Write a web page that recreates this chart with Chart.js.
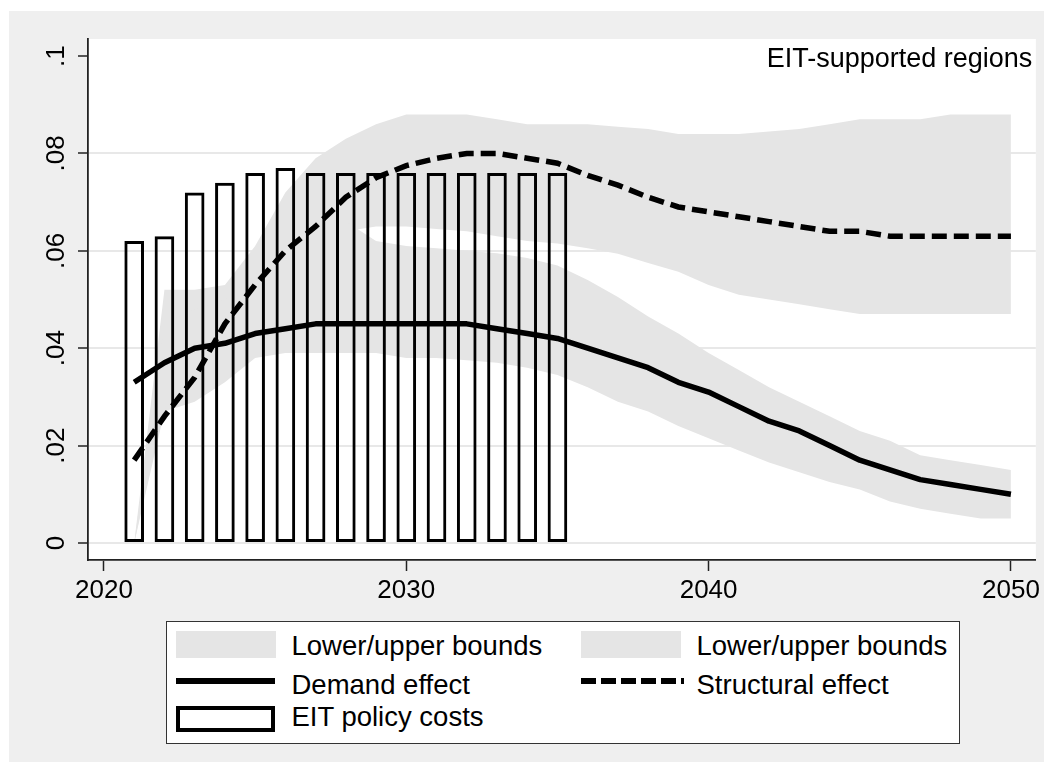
<!DOCTYPE html>
<html>
<head>
<meta charset="utf-8">
<title>EIT-supported regions</title>
<script src="https://cdn.jsdelivr.net/npm/chart.js@4.4.0/dist/chart.umd.min.js"></script>
<style>
  html, body { margin: 0; padding: 0; background: #fff; }
  body { width: 1053px; height: 773px; position: relative; overflow: hidden; font-family: "Liberation Sans", Arial, sans-serif; }
  #frame { position: absolute; left: 9px; top: 11px; width: 1035px; height: 751px; background: #efefef; }
  #chart { position: absolute; left: 0; top: 0; }
  #legend { position: absolute; left: 157px; top: 610px; width: 794px; height: 123px; box-sizing: border-box; border: 1.5px solid #333; background: #fff; }
  #legend .key { position: absolute; box-sizing: border-box; }
  #legend .band { width: 100px; height: 27px; background: #e5e5e5; }
  #legend .solid { width: 99px; height: 6px; background: #000; }
  #legend .dashed { width: 103px; height: 6px; background: repeating-linear-gradient(to right, #000 0 15px, transparent 15px 20px); }
  #legend .bar { width: 99px; height: 26px; border: 4px solid #000; background: #fff; }
  #legend .text { position: absolute; font-size: 27.5px; line-height: 30px; color: #000; white-space: nowrap; }
</style>
</head>
<body>
<div id="frame">
  <canvas id="chart" width="1035" height="751"></canvas>
  <div id="legend"></div>
</div>
<script>
'use strict'

// --- data ---
const years = [2021, 2022, 2023, 2024, 2025, 2026, 2027, 2028, 2029, 2030,
  2031, 2032, 2033, 2034, 2035, 2036, 2037, 2038, 2039, 2040,
  2041, 2042, 2043, 2044, 2045, 2046, 2047, 2048, 2049, 2050]
const costYears = [2021, 2022, 2023, 2024, 2025, 2026, 2027, 2028, 2029, 2030,
  2031, 2032, 2033, 2034, 2035]

const policyCosts = [0.062, 0.063, 0.072, 0.074, 0.076, 0.077, 0.076, 0.076, 0.076, 0.076,
  0.076, 0.076, 0.076, 0.076, 0.076]

const demandEffect = [0.033, 0.037, 0.040, 0.041, 0.043, 0.044, 0.045, 0.045, 0.045, 0.045,
  0.045, 0.045, 0.044, 0.043, 0.042, 0.040, 0.038, 0.036, 0.033, 0.031,
  0.028, 0.025, 0.023, 0.020, 0.017, 0.015, 0.013, 0.012, 0.011, 0.010]
const demandUpper = [0, 0.045, 0.048, 0.050, 0.055, 0.060, 0.064, 0.066, 0.062, 0.061,
  0.0605, 0.060, 0.0595, 0.0585, 0.057, 0.054, 0.0505, 0.0465, 0.043, 0.039,
  0.0355, 0.032, 0.029, 0.026, 0.023, 0.021, 0.018, 0.017, 0.016, 0.015]
const demandLower = [0, 0.027, 0.029, 0.033, 0.038, 0.039, 0.039, 0.039, 0.039, 0.038,
  0.038, 0.0375, 0.037, 0.036, 0.0345, 0.032, 0.029, 0.027, 0.024, 0.0215,
  0.019, 0.0165, 0.0145, 0.0125, 0.011, 0.0085, 0.007, 0.006, 0.005, 0.005]

const structuralEffect = [0.017, 0.026, 0.034, 0.045, 0.053, 0.060, 0.065, 0.071, 0.075, 0.0775,
  0.079, 0.080, 0.080, 0.079, 0.078, 0.0755, 0.0735, 0.071, 0.069, 0.068,
  0.067, 0.066, 0.065, 0.064, 0.064, 0.063, 0.063, 0.063, 0.063, 0.063]
const structuralUpper = [0, 0.052, 0.052, 0.053, 0.061, 0.072, 0.079, 0.083, 0.086, 0.088,
  0.088, 0.088, 0.087, 0.086, 0.086, 0.086, 0.0855, 0.085, 0.084, 0.084,
  0.084, 0.0845, 0.085, 0.086, 0.087, 0.087, 0.087, 0.088, 0.088, 0.088]
const structuralLower = [0, 0.030, 0.035, 0.040, 0.048, 0.055, 0.060, 0.064, 0.065, 0.065,
  0.0645, 0.064, 0.063, 0.062, 0.0615, 0.0605, 0.0594, 0.0575, 0.0557, 0.053,
  0.051, 0.050, 0.049, 0.048, 0.047, 0.047, 0.047, 0.047, 0.047, 0.047]

const xTickValues = [2020, 2030, 2040, 2050]
const yTickValues = [0, 0.02, 0.04, 0.06, 0.08, 0.1]

const boundsLabel = 'Lower/upper bounds'
const demandLabel = 'Demand effect'
const structuralLabel = 'Structural effect'
const costsLabel = 'EIT policy costs'
const panelTitle = 'EIT-supported regions'

// --- styling ---
const FONT = '"Liberation Sans", Arial, sans-serif'
const BAND = '#e5e5e5'
const AXIS = '#222'
const NONE = 'rgba(0,0,0,0)'

function toPoints (xs, ys) {
  return xs.map((x, i) => ({ x: x, y: ys[i] }))
}

function formatY (v) {
  if (v === 0) return '0'
  return String(Number(v.toFixed(2))).replace(/^0/, '')
}

function bandDataset (label, values, fill, order) {
  return {
    type: 'line',
    label: label,
    data: toPoints(years, values),
    fill: fill,
    backgroundColor: BAND,
    borderColor: NONE,
    borderWidth: 0,
    pointRadius: 0,
    tension: 0,
    order: order
  }
}

// white plot region and the panel title inside it
const plotArea = {
  id: 'plotArea',
  beforeDraw (chart) {
    const { ctx, chartArea } = chart
    ctx.save()
    ctx.fillStyle = '#fff'
    ctx.fillRect(chartArea.left, chartArea.top, chartArea.right - chartArea.left, chartArea.bottom - chartArea.top)
    ctx.restore()
  },
  afterDraw (chart) {
    const { ctx, chartArea } = chart
    ctx.save()
    ctx.fillStyle = '#000'
    ctx.font = '27px ' + FONT
    ctx.textAlign = 'right'
    ctx.textBaseline = 'alphabetic'
    ctx.fillText(panelTitle, chartArea.right - 3.5, chartArea.top + 27.7)
    ctx.restore()
  }
}

const chart = new Chart(document.getElementById('chart'), {
  type: 'line',
  data: {
    datasets: [
      bandDataset(boundsLabel, structuralUpper, '+1', 6),
      bandDataset('structural lower', structuralLower, false, 6),
      bandDataset(boundsLabel, demandUpper, '+1', 5),
      bandDataset('demand lower', demandLower, false, 5),
      {
        type: 'bar',
        label: costsLabel,
        data: toPoints(costYears, policyCosts),
        backgroundColor: NONE,
        borderColor: '#000',
        borderWidth: 3,
        borderSkipped: false,
        barPercentage: 0.65,
        categoryPercentage: 1,
        order: 3
      },
      {
        type: 'line',
        label: demandLabel,
        data: toPoints(years, demandEffect),
        borderColor: '#000',
        borderWidth: 5.5,
        borderJoinStyle: 'round',
        pointRadius: 0,
        fill: false,
        tension: 0,
        order: 2
      },
      {
        type: 'line',
        label: structuralLabel,
        data: toPoints(years, structuralEffect),
        borderColor: '#000',
        borderWidth: 5.5,
        borderDash: [15, 7],
        pointRadius: 0,
        fill: false,
        tension: 0,
        order: 1
      }
    ]
  },
  options: {
    responsive: false,
    animation: false,
    devicePixelRatio: 1,
    layout: { padding: { top: 28, right: 6, bottom: 142, left: 0 } },
    plugins: {
      legend: { display: false },
      tooltip: { enabled: false }
    },
    scales: {
      x: {
        type: 'linear',
        min: 2019.472,
        max: 2050.825,
        offset: false,
        afterBuildTicks: scale => { scale.ticks = xTickValues.map(v => ({ value: v })) },
        afterFit: scale => { scale.height = 60 },
        grid: { drawOnChartArea: false, offset: false, tickLength: 11, tickWidth: 1.5, tickColor: AXIS },
        border: { color: AXIS, width: 1.8 },
        ticks: {
          autoSkip: false,
          maxRotation: 0,
          padding: 4,
          color: '#000',
          font: { family: FONT, size: 26 },
          callback: v => String(v)
        }
      },
      y: {
        type: 'linear',
        min: -0.0035,
        max: 0.1035,
        afterBuildTicks: scale => { scale.ticks = yTickValues.map(v => ({ value: v })) },
        afterFit: scale => { scale.width = 79 },
        grid: {
          color: c => (c.tick && c.tick.value > 0.09 ? NONE : '#e8e8e8'),
          lineWidth: 2,
          tickLength: 10,
          tickWidth: 1.5,
          tickColor: AXIS
        },
        border: { color: AXIS, width: 1.8 },
        ticks: {
          autoSkip: false,
          minRotation: 90,
          maxRotation: 90,
          crossAlign: 'center',
          padding: 3,
          color: '#000',
          font: { family: FONT, size: 26 },
          callback: v => formatY(v)
        }
      }
    }
  },
  plugins: [plotArea]
})

// legend box in two columns, built from the dataset labels
function renderLegend () {
  const ds = chart.data.datasets
  const entries = [
    { label: ds[0].label, key: 'band', col: 0, row: 0 },
    { label: ds[2].label, key: 'band', col: 1, row: 0 },
    { label: ds[5].label, key: 'solid', col: 0, row: 1 },
    { label: ds[6].label, key: 'dashed', col: 1, row: 1 },
    { label: ds[4].label, key: 'bar', col: 0, row: 2 }
  ]
  const keyLeft = [9.2, 414.2]
  const textLeft = [124.5, 529.5]
  const keyTop = { band: 8.5, solid: 56.2, dashed: 56.2, bar: 83.8 }
  const textTop = [9, 47.5, 80]
  const box = document.getElementById('legend')
  entries.forEach(e => {
    const key = document.createElement('div')
    key.className = 'key ' + e.key
    key.style.left = keyLeft[e.col] + 'px'
    key.style.top = keyTop[e.key] + 'px'
    box.appendChild(key)
    const text = document.createElement('div')
    text.className = 'text'
    text.textContent = e.label
    text.style.left = textLeft[e.col] + 'px'
    text.style.top = textTop[e.row] + 'px'
    box.appendChild(text)
  })
}

renderLegend()
</script>
</body>
</html>
